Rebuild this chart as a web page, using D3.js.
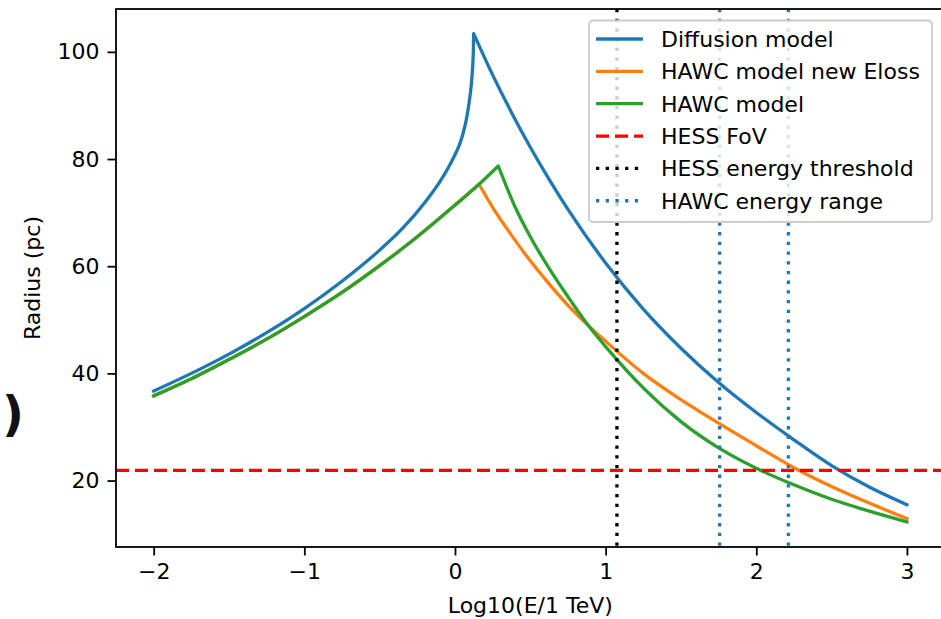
<!DOCTYPE html>
<html><head><meta charset="utf-8">
<script src="https://cdn.jsdelivr.net/npm/d3@7"></script>
<style>
body{margin:0;background:#fff;}
svg{display:block;font-family:"DejaVu Sans",sans-serif;}
</style>
</head><body>
<svg id="chart" width="941" height="619"></svg>
<script>
// ---- data ----
const diffusionX = [-2, -1.75, -1.5, -1.25, -1, -0.75, -0.5, -0.35, -0.2, -0.1, -0.05, 0, 0.03, 0.055, 0.075, 0.09, 0.1, 0.108, 0.114, 0.119, 0.122, 0.124,
                    0.25, 0.375, 0.5, 0.625, 0.75, 1.0, 1.25, 1.5, 1.75, 2.0, 2.25, 2.5, 2.75, 3.0];
const diffusionY = [36.7, 40.0, 43.6, 47.6, 52.1, 57.2, 63.0, 67.0, 71.9, 75.8, 78.1, 80.8, 82.7, 84.9, 87.3, 89.8, 91.8, 93.8, 95.8, 98.1, 100.2, 103.4,
                    95.7, 88.7, 82.2, 76.2, 70.6, 60.6, 52.0, 44.7, 38.3, 32.7, 27.6, 22.8, 18.8, 15.5];
const diffusionPeak = 21; // index of cusp

const hawcNewX = [-2, -1.75, -1.5, -1.25, -1, -0.75, -0.5, -0.25, 0, 0.16,
                  0.25, 0.375, 0.5, 0.625, 0.75, 0.875, 1.0, 1.25, 1.5, 1.75, 2.0, 2.25, 2.5, 2.75, 3.0];
const hawcNewY = [35.8, 39.0, 42.6, 46.4, 50.6, 55.1, 60.1, 65.5, 71.4, 75.3,
                  71.0, 65.8, 61.0, 56.7, 52.7, 49.2, 46.0, 40.0, 35.1, 30.7, 26.5, 22.4, 18.9, 15.8, 12.9];
const hawcNewPeak = 9;

const hawcX = [-2, -1.75, -1.5, -1.25, -1, -0.75, -0.5, -0.25, 0, 0.16, 0.2875,
               0.4, 0.5, 0.625, 0.75, 0.875, 1.0, 1.25, 1.5, 1.75, 2.0, 2.25, 2.5, 2.75, 3.0];
const hawcY = [35.8, 39.0, 42.6, 46.4, 50.6, 55.1, 60.1, 65.5, 71.4, 75.3, 78.7,
               71.0, 65.5, 59.6, 54.3, 49.3, 45.0, 37.3, 31.0, 26.1, 22.3, 19.2, 16.5, 14.3, 12.3];
const hawcPeak = 10;

const hessFoV = 21.9;
const hessThreshold = 1.075;
const hawcRange = [1.757, 2.213];

const xTicks = [-2, -1, 0, 1, 2, 3];
const yTicks = [20, 40, 60, 80, 100];

const legendLabels = ["Diffusion model", "HAWC model new Eloss", "HAWC model", "HESS FoV", "HESS energy threshold", "HAWC energy range"];

// ---- layout ----
const svg = d3.select("#chart");
const L = 116, R = 944.6, T = 9, B = 547;
const x = d3.scaleLinear().domain([-2.25, 3.25]).range([L, R]);
const y = d3.scaleLinear().domain([7.6, 108]).range([B, T]);

const C = {blue:"#1f77b4", orange:"#ff7f0e", green:"#2ca02c", red:"#ff0000", black:"#000000"};
const LW = 3.3;

const plot = svg.append("g");

function cuspPath(xs, ys, k) {
  const pts = xs.map((v, i) => [x(v), y(ys[i])]);
  const gen = d3.line().curve(d3.curveMonotoneX);
  const a = gen(pts.slice(0, k + 1));
  const b = gen(pts.slice(k));
  return a + b.replace(/^M/, "L");
}

const series = [
  {xs: diffusionX, ys: diffusionY, k: diffusionPeak, c: C.blue},
  {xs: hawcNewX, ys: hawcNewY, k: hawcNewPeak, c: C.orange},
  {xs: hawcX, ys: hawcY, k: hawcPeak, c: C.green}
];
series.forEach(s => {
  plot.append("path").attr("d", cuspPath(s.xs, s.ys, s.k))
    .attr("fill", "none").attr("stroke", s.c).attr("stroke-width", LW)
    .attr("stroke-linejoin", "round").attr("stroke-linecap", "square");
});

// reference lines
plot.append("line").attr("x1", L).attr("x2", R).attr("y1", y(hessFoV)).attr("y2", y(hessFoV))
  .attr("stroke", C.red).attr("stroke-width", LW).attr("stroke-dasharray", "13,6");
plot.append("line").attr("x1", x(hessThreshold)).attr("x2", x(hessThreshold)).attr("y1", T).attr("y2", B)
  .attr("stroke", C.black).attr("stroke-width", LW).attr("stroke-dasharray", "3.3,6.4");
hawcRange.forEach(v => {
  plot.append("line").attr("x1", x(v)).attr("x2", x(v)).attr("y1", T).attr("y2", B)
    .attr("stroke", C.blue).attr("stroke-width", LW).attr("stroke-dasharray", "3.3,6.4");
});

// frame
svg.append("rect").attr("x", L).attr("y", T).attr("width", R - L).attr("height", B - T)
  .attr("fill", "none").attr("stroke", "#000").attr("stroke-width", 1.8);

// axes
const fmt = d => (d < 0 ? "\u2212" + Math.abs(d) : String(d));
const xAxis = svg.append("g").attr("transform", `translate(0,${B})`)
  .call(d3.axisBottom(x).tickValues(xTicks).tickFormat(fmt).tickSize(8.5).tickPadding(8));
const yAxis = svg.append("g").attr("transform", `translate(${L},0)`)
  .call(d3.axisLeft(y).tickValues(yTicks).tickFormat(fmt).tickSize(8.5).tickPadding(8));
[xAxis, yAxis].forEach(g => {
  g.select(".domain").remove();
  g.selectAll(".tick line").attr("stroke", "#000").attr("stroke-width", 1.8);
  g.selectAll(".tick text").attr("fill", "#000").style("font-size", "22px").style("font-family", "DejaVu Sans");
});

svg.append("text").attr("x", (L + R) / 2).attr("y", 613).attr("text-anchor", "middle")
  .style("font-size", "22px").text("Log10(E/1 TeV)");
svg.append("text").attr("transform", `translate(40,${(T + B) / 2}) rotate(-90)`).attr("text-anchor", "middle")
  .style("font-size", "22px").text("Radius (pc)");

// stray glyph at the left edge of the reference
svg.append("text").attr("x", 2).attr("y", 431).style("font-size", "48px").style("font-weight", "bold")
  .attr("fill", "#111").text(")");

// legend
const lg = svg.append("g");
lg.append("rect").attr("x", 589).attr("y", 20.5).attr("width", 343).attr("height", 201.5).attr("rx", 4)
  .attr("fill", "#fff").attr("fill-opacity", 0.8).attr("stroke", "#cccccc").attr("stroke-width", 1.8);
const styles = [
  {c: C.blue, d: null}, {c: C.orange, d: null}, {c: C.green, d: null},
  {c: C.red, d: "13,6"}, {c: C.black, d: "3.3,6.4"}, {c: C.blue, d: "3.3,6.4"}
];
legendLabels.forEach((lab, i) => {
  const cy = 39 + i * 32.35;
  const ln = lg.append("line").attr("x1", 596).attr("x2", 643).attr("y1", cy).attr("y2", cy)
    .attr("stroke", styles[i].c).attr("stroke-width", LW);
  if (styles[i].d) ln.attr("stroke-dasharray", styles[i].d);
  lg.append("text").attr("x", 661).attr("y", cy + 8).style("font-size", "22px").text(lab);
});
</script>
</body></html>
